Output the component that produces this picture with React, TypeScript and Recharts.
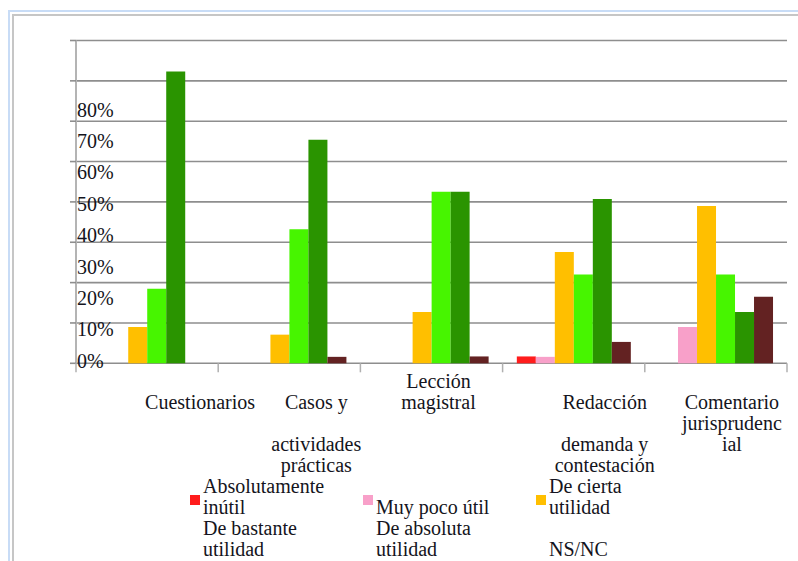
import { BarChart, Bar, XAxis, YAxis, CartesianGrid, Legend } from 'recharts';

// valores en %
const categories = [
  'Cuestionarios',
  'Casos y actividades prácticas',
  'Lección magistral',
  'Redacción demanda y contestación',
  'Comentario jurisprudencial',
];
const categoryLines = [
  ['Cuestionarios'],
  ['Casos y', '', 'actividades', 'prácticas'],
  ['Lección', 'magistral'],
  ['Redacción', '', 'demanda y', 'contestación'],
  ['Comentario', 'jurisprudenc', 'ial'],
];
const absolutamenteInutil = [0, 0, 0, 1.7, 0];
const muyPocoUtil = [0, 0, 0, 1.6, 9];
const deCiertaUtilidad = [9, 7.1, 12.7, 27.6, 39];
const deBastanteUtilidad = [18.5, 33.2, 42.5, 22, 22];
const deAbsolutaUtilidad = [72.3, 55.4, 42.5, 40.7, 12.7];
const nsnc = [0, 1.6, 1.7, 5.3, 16.5];
const yTicks = [0, 10, 20, 30, 40, 50, 60, 70, 80];

const seriesNames = [
  'Absolutamente inútil',
  'Muy poco útil',
  'De cierta utilidad',
  'De bastante utilidad',
  'De absoluta utilidad',
  'NS/NC',
];
const legendLines = [
  ['Absolutamente', 'inútil'],
  ['Muy poco útil'],
  ['De cierta', 'utilidad'],
  ['De bastante', 'utilidad'],
  ['De absoluta', 'utilidad'],
  ['NS/NC'],
];

const data = categories.map((c, i) => ({
  name: c,
  s0: absolutamenteInutil[i],
  s1: muyPocoUtil[i],
  s2: deCiertaUtilidad[i],
  s3: deBastanteUtilidad[i],
  s4: deAbsolutaUtilidad[i],
  s5: nsnc[i],
}));

const COLORS = ['#ff1c1c', '#f8a0c9', '#ffbf00', '#47f500', '#2a9400', '#632222'];
const FONT = "'Liberation Serif', 'Times New Roman', serif";
const TEXT = '#141420';
const GRID = '#8e8e8e';

const TOP = 40.5;
const PLOT_BOTTOM = 363.3;

// the labels in the source sit off their gridlines
function YTick(props: any) {
  const { x, y, payload } = props;
  const ly = PLOT_BOTTOM - 2.5 - (PLOT_BOTTOM - y) * 0.778;
  return (
    <text x={x + 7} y={ly} dy="0.35em" textAnchor="start" fontFamily={FONT} fontSize={20} fill={TEXT}>
      {payload.value}%
    </text>
  );
}

const LABEL_SHIFT: Record<number, { dx: number; row: number }> = {
  0: { dx: 53, row: 1 },
  1: { dx: 27, row: 1 },
  2: { dx: 7, row: 0 },
  3: { dx: 31, row: 1 },
  4: { dx: 16, row: 1 },
};

function XTick(props: any) {
  const { x, y, payload, index } = props;
  const half = payload.offset || 71.1;
  const lines = categoryLines[index] || [payload.value];
  const s = LABEL_SHIFT[index] || { dx: 0, row: 1 };
  return (
    <g>
      <line x1={x - half} x2={x - half} y1={y} y2={y + 9} stroke="#b0b0b0" strokeWidth={1.5} />
      {index === categories.length - 1 && (
        <line x1={x + half} x2={x + half} y1={y} y2={y + 9} stroke="#b0b0b0" strokeWidth={1.5} />
      )}
      <text textAnchor="middle" fontFamily={FONT} fontSize={20} fill={TEXT}>
        {lines.map((l, i) => (
          <tspan key={i} x={x + s.dx} y={y + 24.5 + (s.row + i) * 21}>{l}</tspan>
        ))}
      </text>
    </g>
  );
}

function LegendBox(props: any) {
  const payload = props.payload || [];
  return (
    <div style={{ position: 'relative', width: 798, height: 0, fontFamily: FONT, fontSize: 20, color: TEXT }}>
      {payload.map((p: any) => {
        const i = Number(String(p.dataKey).slice(1));
        const col = i % 3;
        const row = Math.floor(i / 3);
        const lines = legendLines[i] || [p.value];
        return (
          <div
            key={i}
            style={{
              position: 'absolute', left: 190 + col * 173, top: row * 42,
              height: 42, width: 170, display: 'flex', alignItems: 'center',
            }}
          >
            <div style={{ width: 10, height: 10, marginTop: 6, background: row === 0 ? COLORS[i] : 'transparent', flex: 'none' }} />
            <div
              style={{
                marginLeft: 3, height: 42, display: 'flex', flexDirection: 'column',
                justifyContent: 'flex-end', lineHeight: '21px', whiteSpace: 'nowrap',
              }}
            >
              {lines.map((l: string, k: number) => <div key={k}>{l}</div>)}
            </div>
          </div>
        );
      })}
    </div>
  );
}

export default function App() {
  return (
    <div style={{ position: 'absolute', left: 0, top: 0, width: 798, height: 561, background: '#fff', overflow: 'hidden' }}>
      <div style={{ position: 'absolute', left: 8, top: 10, width: 820, height: 580, borderLeft: '2px solid #c8dcf6', borderTop: '2px solid #c8dcf6' }} />
      <div style={{ position: 'absolute', left: 12, top: 13.5, width: 820, height: 580, borderLeft: '2px solid #c6c6c6', borderTop: '2px solid #c6c6c6' }} />
      <div style={{ position: 'absolute', left: 0, top: 0 }}>
        <BarChart
          width={798}
          height={561}
          data={data}
          margin={{ top: TOP, right: 11, bottom: 0, left: 70 }}
          barCategoryGap="10%"
          barGap={0}
        >
          <CartesianGrid vertical={false} stroke={GRID} strokeWidth={1.6} />
          <XAxis
            dataKey="name"
            height={561 - PLOT_BOTTOM}
            axisLine={false}
            tickLine={false}
            tickSize={0}
            tickMargin={0}
            interval={0}
            tick={<XTick />}
          />
          <YAxis
            width={6}
            domain={[0, 80]}
            ticks={yTicks}
            interval={0}
            tickSize={6}
            tickMargin={0}
            tickLine={{ stroke: GRID, strokeWidth: 1.6 }}
            axisLine={{ stroke: '#b4b4b4', strokeWidth: 2 }}
            tick={<YTick />}
          />
          <Legend
            content={<LegendBox />}
            wrapperStyle={{ left: 0, top: 476, width: 798, height: 0 }}
          />
          {seriesNames.map((n, i) => (
            <Bar key={n} dataKey={`s${i}`} name={n} fill={COLORS[i]} isAnimationActive={false} />
          ))}
        </BarChart>
      </div>
    </div>
  );
}
